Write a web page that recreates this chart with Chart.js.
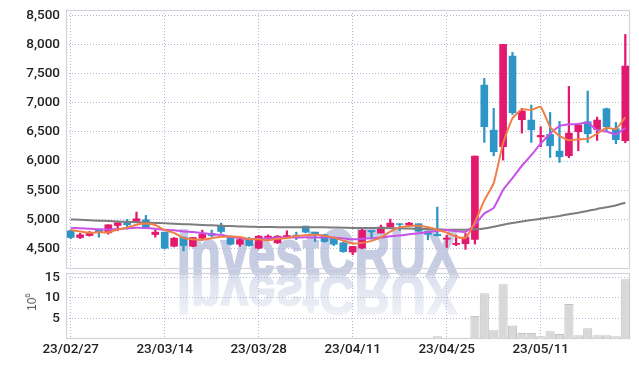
<!DOCTYPE html>
<html><head><meta charset="utf-8">
<script src="https://cdn.jsdelivr.net/npm/chart.js@4.4.0/dist/chart.umd.min.js"></script>
<style>
html,body{margin:0;padding:0;background:#fff;width:639px;height:367px;overflow:hidden;}
#wrap{position:relative;width:639px;height:367px;}
.wm{position:absolute;left:0;top:0;font-family:'Liberation Sans',Arial,sans-serif;font-weight:bold;font-size:66px;line-height:66px;height:66px;color:#c6cde3;white-space:nowrap;transform-origin:0 56px;-webkit-text-stroke:2px #c6cde3;}
#wm1{transform:translate(177px,220px) scale(0.745,1);}
#wm2{transform:translate(177px,220px) scale(0.745,-0.85);color:#dde1ee;-webkit-text-stroke:2px #dde1ee;-webkit-mask-image:linear-gradient(to top,rgba(0,0,0,1) 15%,rgba(0,0,0,0.35) 100%);mask-image:linear-gradient(to top,rgba(0,0,0,1) 15%,rgba(0,0,0,0.35) 100%);}
canvas{position:absolute;left:0;}
#unit{position:absolute;left:32px;top:302px;transform:translate(-50%,-50%) rotate(-90deg);font:12px 'Liberation Sans',Arial,sans-serif;color:#555;white-space:nowrap;line-height:14px;}
#unit sup{font-size:8px;vertical-align:6px;line-height:0;}
</style></head>
<body><div id="wrap">
<div id="wm1" class="wm">InvestCRUX</div>
<div id="wm2" class="wm">InvestCRUX</div>
<canvas id="c1" width="639" height="272" style="top:0;width:639px;height:272px"></canvas>
<canvas id="c2" width="639" height="95" style="top:272px;width:639px;height:95px"></canvas>
<div id="unit">10<sup>6</sup></div>
</div>
<script>
const dates = ['23/02/27','23/02/28','23/03/02','23/03/03','23/03/06','23/03/07','23/03/08','23/03/09','23/03/10','23/03/13',
'23/03/14','23/03/15','23/03/16','23/03/17','23/03/20','23/03/21','23/03/22','23/03/23','23/03/24','23/03/27',
'23/03/28','23/03/29','23/03/30','23/03/31','23/04/03','23/04/04','23/04/05','23/04/06','23/04/07','23/04/10',
'23/04/11','23/04/12','23/04/13','23/04/14','23/04/17','23/04/18','23/04/19','23/04/20','23/04/21','23/04/24',
'23/04/25','23/04/26','23/04/27','23/04/28','23/05/02','23/05/03','23/05/04','23/05/08','23/05/09','23/05/10',
'23/05/11','23/05/12','23/05/15','23/05/16','23/05/17','23/05/18','23/05/19','23/05/22','23/05/23','23/05/24'];

const open  = [4805,4690,4724,4816,4770,4897,4943,4966,4994,4741, 4782,4540,4690,4540,4678,4759,4897,4713,4575,4655,
               4506,4690,4598,4701,4730,4885,4782,4736,4690,4598, 4440,4509,4810,4766,4869,4926,4903,4926,4800,4743,
               4660,4570,4583,4657,7303,6531,6246,7800,6709,6703, 6415,6457,6171,6092,6503,6674,6543,6897,6554,6349];
const high  = [4820,4764,4793,4828,4908,4943,5000,5126,5069,4822, 4782,4690,4701,4690,4816,4816,4937,4713,4678,4690,
               4724,4736,4724,4805,4782,4885,4782,4747,4701,4609, 4537,4834,4810,4903,5006,4926,4949,4926,4800,5211,
               4730,4732,4760,6086,7417,6903,8000,7863,6903,6960, 6589,6834,6680,7280,6646,7200,6754,6909,6663,8171];
const low   = [4670,4672,4713,4695,4747,4805,4833,4948,4862,4695, 4494,4529,4460,4529,4644,4701,4764,4563,4540,4540,
               4494,4632,4587,4678,4655,4770,4621,4609,4552,4437, 4394,4497,4663,4766,4869,4811,4880,4789,4651,4720,
               4520,4549,4486,4577,6320,6091,6017,6800,6480,6320, 6246,6063,5977,6057,6177,6320,6354,6514,6297,6314];
const close = [4690,4736,4759,4782,4908,4943,4908,5011,4874,4782, 4506,4678,4552,4690,4747,4724,4793,4575,4655,4552,
               4713,4713,4713,4724,4715,4782,4747,4621,4575,4448, 4537,4811,4789,4869,4937,4914,4937,4800,4743,4720,
               4680,4590,4697,6086,6589,6160,8000,6829,6857,6537, 6440,6263,6074,6480,6617,6469,6703,6589,6366,7629];
const ma5   = [4820,4795,4770,4780,4778,4826,4860,4910,4929,4904, 4816,4770,4680,4660,4650,4678,4701,4706,4699,4660,
               4658,4645,4669,4683,4716,4729,4736,4718,4688,4635, 4588,4598,4632,4691,4789,4864,4889,4891,4866,4823,
               4775,4704,4683,4952,5326,5623,6306,6733,6887,6877, 6931,6583,6432,6357,6373,6381,6469,6572,6549,6751];
const ma10  = [4855,4848,4838,4830,4828,4835,4848,4858,4852,4839, 4821,4815,4794,4785,4769,4747,4736,4700,4680,4660,
               4668,4671,4688,4691,4688,4694,4689,4694,4686,4675, 4658,4667,4675,4689,4712,4725,4744,4762,4779,4806,
               4819,4797,4787,4909,5100,5199,5505,5708,5920,6101, 6300,6470,6600,6630,6635,6660,6530,6505,6460,6570];
const maLong= [5000,4993,4986,4979,4972,4965,4958,4952,4946,4940, 4933,4926,4919,4912,4905,4898,4892,4886,4880,4875,
               4871,4869,4867,4866,4866,4866,4866,4864,4862,4858, 4853,4852,4852,4852,4850,4847,4844,4840,4835,4830,
               4825,4822,4823,4830,4845,4876,4910,4940,4965,4990, 5010,5035,5060,5090,5115,5145,5180,5207,5240,5285];
const volume= [0.05,0.05,0.05,0.05,0.05,0.05,0.05,0.05,0.05,0.05, 0.05,0.05,0.05,0.05,0.05,0.05,0.05,0.05,0.05,0.05,
               0.05,0.05,0.05,0.05,0.05,0.05,0.05,0.05,0.05,0.05, 0.05,0.05,0.05,0.05,0.05,0.05,0.05,0.05,0.05,0.65,
               0.05,0.05,0.05,5.6,11.1,2.1,13.3,3.3,1.45,1.45, 0.65,1.9,1.2,8.5,0.9,2.6,0.9,0.9,0.65,14.5];
const priceTicks = [4500,5000,5500,6000,6500,7000,7500,8000,8500];
const volTicks = [5,10,15];

const UP = '#e2196c', DOWN = '#2e95c7';
const candleColors = close.map((c,i)=> c >= open[i] ? UP : DOWN);
const bodies = open.map((o,i)=>[o, close[i]]);
const wicks = low.map((l,i)=>[l, high[i]]);

const FONT = "Roboto,'Liberation Sans',Arial,sans-serif";
Chart.defaults.font.family = FONT;
Chart.defaults.animation = false;
const tickFont = {size:13.5, weight:'500'};
const gridColor = 'rgba(172,180,212,0.95)';
const dash = [1,2];

const frame = {id:'frame', beforeDatasetsDraw(chart){
  const {ctx, chartArea:a} = chart;
  ctx.save(); ctx.strokeStyle='#d2d3dc'; ctx.lineWidth=1.2;
  ctx.strokeRect(a.left+0.5, a.top+0.5, a.right-a.left-1, a.bottom-a.top-1);
  ctx.restore();
}};
const keepEvery10 = s => { s.ticks = s.ticks.filter(t => t.value % 10 === 0); };
const zeroPad = s => { s.paddingTop=0; s.paddingBottom=0; s.paddingLeft=0; s.paddingRight=0; };

new Chart(document.getElementById('c1'), {
  type:'bar',
  data:{labels:dates, datasets:[
    {type:'line', data:ma5, borderColor:'#f07f47', borderWidth:2, pointRadius:0, tension:0.15, order:0},
    {type:'line', data:ma10, borderColor:'#c852e8', borderWidth:2, pointRadius:0, tension:0.15, order:0},
    {type:'line', data:maLong, borderColor:'#7d7d7d', borderWidth:2, pointRadius:0, tension:0.15, order:0},
    {data:wicks, backgroundColor:candleColors, barThickness:1.6, grouped:false, order:2},
    {data:bodies, backgroundColor:candleColors, barThickness:7, grouped:false, order:1}
  ]},
  options:{
    responsive:false, animation:false,
    layout:{padding:{top:10,right:9,bottom:3,left:0}},
    plugins:{legend:{display:false}, tooltip:{enabled:false}},
    scales:{
      x:{offset:true, grid:{offset:false, color:gridColor, drawTicks:false}, border:{display:false, dash:dash},
         ticks:{display:false, autoSkip:false}, afterBuildTicks:keepEvery10,
         afterFit:s=>{ s.height=0; zeroPad(s);} },
      y:{min:4150, max:8590, grid:{color:gridColor, drawTicks:false}, border:{display:false, dash:dash},
         afterBuildTicks:s=>{ s.ticks = priceTicks.map(v=>({value:v})); },
         ticks:{callback:v=>v.toLocaleString('en-US'), color:'#222', font:tickFont, padding:6},
         afterFit:s=>{ s.width=66; zeroPad(s);} }
    }
  },
  plugins:[frame]
});

new Chart(document.getElementById('c2'), {
  type:'bar',
  data:{labels:dates, datasets:[
    {data:volume, backgroundColor:'#d8d8d8', borderColor:'#c2c2c2', borderWidth:1, barPercentage:1, categoryPercentage:0.97}
  ]},
  options:{
    responsive:false, animation:false,
    layout:{padding:{top:1,right:9,bottom:0,left:0}},
    plugins:{legend:{display:false}, tooltip:{enabled:false}},
    scales:{
      x:{offset:true, grid:{offset:false, color:gridColor, drawTicks:false}, border:{display:false, dash:dash},
         ticks:{autoSkip:false, maxRotation:0, color:'#222', font:tickFont, padding:3}, afterBuildTicks:keepEvery10,
         afterFit:s=>{ s.height=28; zeroPad(s);} },
      y:{min:0, max:16, grid:{color:gridColor, drawTicks:false}, border:{display:false, dash:dash},
         afterBuildTicks:s=>{ s.ticks = volTicks.map(v=>({value:v})); },
         ticks:{color:'#222', font:tickFont, padding:6},
         afterFit:s=>{ s.width=66; zeroPad(s);} }
    }
  },
  plugins:[frame]
});
</script>
</body></html>
